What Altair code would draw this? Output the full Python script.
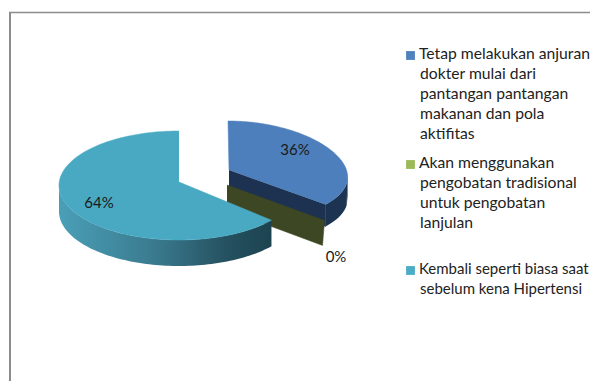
import numpy as np
import pandas as pd
import altair as alt

# --- chart values
categories = [
    ["Tetap melakukan anjuran", "dokter mulai dari", "pantangan pantangan", "makanan dan pola", "aktifitas"],
    ["Akan menggunakan", "pengobatan tradisional", "untuk pengobatan", "lanjulan"],
    ["Kembali seperti biasa saat", "sebelum kena Hipertensi"],
]
shares = [36, 0, 64]
swatches = ["#4f81bd", "#9bbb59", "#4bacc6"]

# --- layout of the picture (page pixels)
W, H = 581, 373
X = alt.X("x:Q", axis=None, scale=alt.Scale(domain=[8, 8 + W], nice=False, zero=False))
Y = alt.Y("y:Q", axis=None, scale=alt.Scale(domain=[8 + H, 8], nice=False, zero=False))
DEPTH = 25
end_angle = np.radians(shares[0] / 100 * 360)   # clockwise from 12 o'clock


def rim(a, cx, cy, rx, ry, p=0.0):
    """Point on a tilted pie's rim, a clockwise from the top; p = perspective."""
    s, c = np.sin(a), -np.cos(a)
    return cx + rx * s * (1 + p * c), cy + ry * c


def polygon(points):
    return pd.DataFrame([{"x": x, "y": y, "i": i} for i, (x, y) in enumerate(points)])


def face(points, color):
    return (alt.Chart(polygon(points))
            .mark_line(fill=color, stroke=color, strokeWidth=0.5, interpolate="linear")
            .encode(x=X, y=Y, order=alt.Order("i:Q")))


def wall(a, depth, color, **ell):
    xs, ys = rim(a, **ell)
    df = pd.DataFrame({"x": xs, "y": ys, "y2": ys + depth})
    return alt.Chart(df).mark_area(color=color, strokeWidth=0).encode(x=X, y=Y, y2="y2:Q")


def ramp(stops):
    return alt.Gradient(gradient="linear", x1=0, x2=1, y1=0, y2=0,
                        stops=[alt.GradientStop(offset=o, color=c) for o, c in stops])


# --- blue slice (36 %), pulled out to the right
blue = dict(cx=227, cy=172, rx=119, ry=51, p=0.1)
blue_arc = np.linspace(0, end_angle, 80)
bx, by = rim(blue_arc, **blue)
blue_wall = wall(np.linspace(np.pi / 2, end_angle, 30), 22, "#1d3352", **blue)
blue_cut = face([(228, 170), (bx[-1], by[-1]), (bx[-1], by[-1] + 22), (228, 192)], "#1c3250")
blue_top = face([(228, 170)] + list(zip(bx, by)), "#4c7fbb")

# --- olive slice (0 %): only its cut face shows
ox, oy = rim(end_angle, cx=226, cy=186, rx=119, ry=54, p=0.1)
olive_cut = face([(226, 185), (ox, oy), (ox - 2, oy + DEPTH), (226, 210)], "#3e4723")

# --- teal slice (64 %)
teal = dict(cx=178, cy=185.5, rx=120, ry=54.5)
teal_arc = np.linspace(end_angle, 2 * np.pi, 160)
tx, ty = rim(teal_arc, **teal)
teal_wall = wall(np.linspace(end_angle, 1.5 * np.pi, 90), DEPTH + 1,
                 ramp([(0, "#4a9fb7"), (0.45, "#3a7a8e"), (0.8, "#24505f"), (1, "#1d4350")]),
                 **teal)
teal_top = face([(178, 182)] + list(zip(tx, ty)), "#49a9c3")

# --- frame: top and left edges only
left_edge = alt.Chart(pd.DataFrame({"x": [9], "y": [12.5], "y2": [8 + H]})).mark_rule(
    color="#8c8c8c", strokeWidth=2).encode(x=X, y=Y, y2="y2:Q")
top_edge = alt.Chart(pd.DataFrame({"y": [12.5], "x": [8], "x2": [8 + W]})).mark_rule(
    color="#8c8c8c", strokeWidth=1.5).encode(x=X, x2="x2:Q", y=Y)

# --- data labels
label_at = [(294, 150), (335, 257), (98, 203)]
labels = pd.DataFrame({"x": [p[0] for p in label_at], "y": [p[1] for p in label_at],
                       "t": [f"{v}%" for v in shares]})
value_text = alt.Chart(labels).mark_text(font="Lato", fontSize=15, color="#1a1a1a").encode(x=X, y=Y, text="t:N")

# --- legend
block_top = [54, 163, 269]
block_size = [15.7, 15.7, 15]
rows, keys = [], []
for top, lines, col, size in zip(block_top, categories, swatches, block_size):
    keys.append({"x": 409.5, "y": top + 1.5, "c": col})
    for n, line in enumerate(lines):
        rows.append({"x": 418 if n == 0 else 419, "y": top + n * 20, "t": line, "s": size})
legend_text = alt.Chart(pd.DataFrame(rows)).mark_text(
    font="Lato", align="left", baseline="middle", color="#222222").encode(
    x=X, y=Y, text="t:N", size=alt.Size("s:Q", scale=None, legend=None))
legend_keys = alt.Chart(pd.DataFrame(keys)).mark_square(size=78, opacity=1).encode(
    x=X, y=Y, color=alt.Color("c:N", scale=None))

chart = alt.layer(
    left_edge, top_edge,
    blue_wall, blue_cut, blue_top,
    olive_cut,
    teal_wall, teal_top,
    value_text, legend_keys, legend_text,
).properties(width=W, height=H, padding=0, background="white").configure_view(stroke=None)

chart.save("out.html", embed_options={"renderer": "svg", "actions": False})
